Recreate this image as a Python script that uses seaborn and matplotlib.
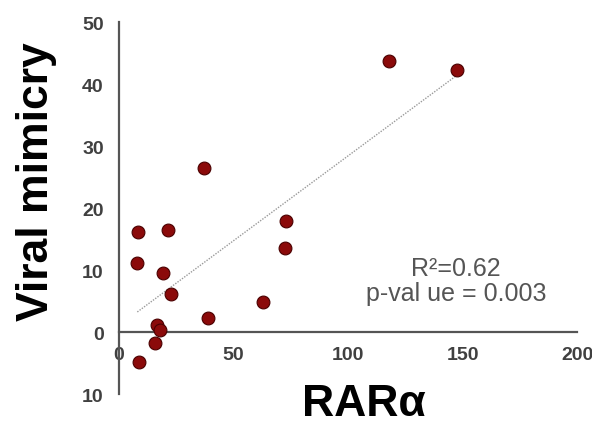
import numpy as np
import pandas as pd
import matplotlib
matplotlib.use("Agg")
import matplotlib.pyplot as plt
import seaborn as sns

# values
rara = [8.5, 21.3, 8.0, 19.2, 22.8, 16.8, 18.0, 15.8, 8.6, 38.7, 63.0, 72.4, 73.1, 37.0, 117.8, 147.5]
viral_mimicry = [16.1, 16.5, 11.2, 9.5, 6.1, 1.1, 0.3, -1.7, -4.9, 2.2, 4.9, 13.5, 17.9, 26.5, 43.7, 42.3]

x_ticks = [0, 50, 100, 150, 200]
y_ticks = [-10, 0, 10, 20, 30, 40, 50]
y_tick_labels = ["10", "0", "10", "20", "30", "40", "50"]

df = pd.DataFrame({"RARa": rara, "viral": viral_mimicry})

sns.set_style("white")
plt.rcParams["font.family"] = ["Liberation Sans", "DejaVu Sans"]

fig = plt.figure(figsize=(5.92, 4.31), dpi=100)
ax = fig.add_axes([0.201, 0.0835, 0.774, 0.863])

sns.regplot(data=df, x="RARa", y="viral", ci=None, ax=ax,
            scatter_kws=dict(s=85, color="#8b0a0a", edgecolor="#4a0000",
                             linewidths=0.8, alpha=1, zorder=3),
            line_kws=dict(color="#9a9a9a", lw=1.0, linestyle=(0, (1, 1)), zorder=2))

ax.set_xlim(0, 200)
ax.set_ylim(-10, 50)
ax.set_xticks(x_ticks)
ax.set_yticks(y_ticks)
ax.set_yticklabels(y_tick_labels)

for side in ["top", "right"]:
    ax.spines[side].set_visible(False)
ax.spines["bottom"].set_position(("data", 0))
ax.spines["left"].set_position(("data", 0))
for side in ["bottom", "left"]:
    ax.spines[side].set_color("#555555")
    ax.spines[side].set_linewidth(1.6)

ax.tick_params(axis="both", length=0, labelsize=14, labelcolor="#404040")
ax.tick_params(axis="x", pad=10)
ax.tick_params(axis="y", pad=11)
for lab in ax.get_xticklabels() + ax.get_yticklabels():
    lab.set_fontweight("bold")

ax.set_xlabel("RARα", fontsize=32, fontweight="bold", color="black")
ax.xaxis.set_label_coords(0.535, 0.03)
ax.set_ylabel("Viral mimicry", fontsize=32, fontweight="bold", color="black")
ax.yaxis.set_label_coords(-0.135, 0.573)

ax.text(0.736, 0.305, "R²=0.62\np-val ue = 0.003", transform=ax.transAxes,
        ha="center", va="center", fontsize=18, color="#555555", linespacing=1.05)

fig.savefig("out.png", dpi=100)
